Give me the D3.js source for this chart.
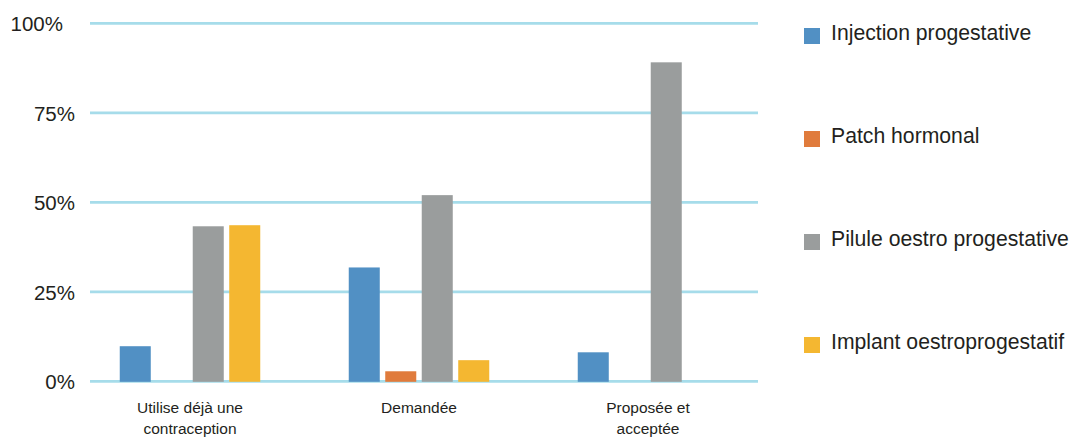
<!DOCTYPE html>
<html><head><meta charset="utf-8">
<script src="https://cdn.jsdelivr.net/npm/d3@7"></script>
<style>body{margin:0;background:#fff}svg{display:block}text{font-family:"Liberation Sans",Arial,Helvetica,sans-serif;fill:#231f20}</style>
</head><body>
<svg id="c" width="1072" height="437"></svg>
<script>
const categories = [["Utilise déjà une","contraception"],["Demandée"],["Proposée et","acceptée"]];
const categoryKeys = ["Utilise déjà une contraception","Demandée","Proposée et acceptée"];
const seriesNames = ["Injection progestative","Patch hormonal","Pilule oestro progestative","Implant oestroprogestatif"];
const seriesColors = ["#5190c4","#e07b3c","#9a9d9d","#f4b731"];
const injection = [9.8, 31.8, 8.1];
const patch = [null, 2.8, null];
const pilule = [43.3, 52.0, 89.1];
const implant = [43.6, 5.9, null];
const seriesValues = [injection, patch, pilule, implant];
const yTicks = [0, 25, 50, 75, 100];
const yTickLabels = ["0%","25%","50%","75%","100%"];

const svg = d3.select("#c");
const y = d3.scaleLinear().domain([0,100]).range([381.3, 23.3]);
const x0 = d3.scaleBand().domain(categoryKeys).range([75.5, 762.5]).padding(0);
const x1 = d3.scaleBand().domain(seriesNames).range([-70.25, 70.25]).paddingInner(0.15).paddingOuter(0);

// grid
svg.append("g").selectAll("line").data(yTicks).join("line")
  .attr("x1", 90).attr("x2", 758)
  .attr("y1", d => y(d)).attr("y2", d => y(d))
  .attr("stroke", "#a6dcea").attr("stroke-width", 2.8);

// y labels
svg.append("g").selectAll("text").data(yTicks).join("text")
  .attr("x", (d,i) => d === 100 ? 63 : 75)
  .attr("y", d => y(d) + 1)
  .attr("dy", "0.35em")
  .attr("text-anchor", "end")
  .attr("font-size", 20.5)
  .text((d,i) => yTickLabels[i]);

// bars
const data = [];
categoryKeys.forEach((c, ci) => seriesNames.forEach((s, si) => {
  const v = seriesValues[si][ci];
  if (v != null) data.push({c, s, v, color: seriesColors[si]});
}));
svg.append("g").selectAll("rect").data(data).join("rect")
  .attr("x", d => x0(d.c) + x0.bandwidth()/2 + x1(d.s))
  .attr("width", x1.bandwidth())
  .attr("y", d => y(d.v))
  .attr("height", d => y(0) - y(d.v) + 0.5)
  .attr("fill", d => d.color);

// category labels
const cl = svg.append("g").selectAll("text").data(categoryKeys).join("text")
  .attr("text-anchor", "middle")
  .attr("font-size", 15.5)
  .attr("x", d => x0(d) + x0.bandwidth()/2)
  .attr("y", 413);
cl.each(function(d, i){
  const t = d3.select(this);
  categories[i].forEach((line, li) => {
    t.append("tspan").attr("x", x0(d) + x0.bandwidth()/2).attr("dy", li === 0 ? 0 : 21).text(line);
  });
});

// legend
const ly = d3.scalePoint().domain(seriesNames).range([36, 345]);
const lg = svg.append("g").selectAll("g").data(seriesNames).join("g")
  .attr("transform", d => `translate(804,${ly(d)})`);
lg.append("rect").attr("x", 0).attr("y", -8).attr("width", 16).attr("height", 16)
  .attr("fill", (d,i) => seriesColors[i]);
lg.append("text").attr("x", 27).attr("y", -3.5).attr("dy", "0.35em")
  .attr("font-size", 21.2).text(d => d);
</script>
</body></html>
